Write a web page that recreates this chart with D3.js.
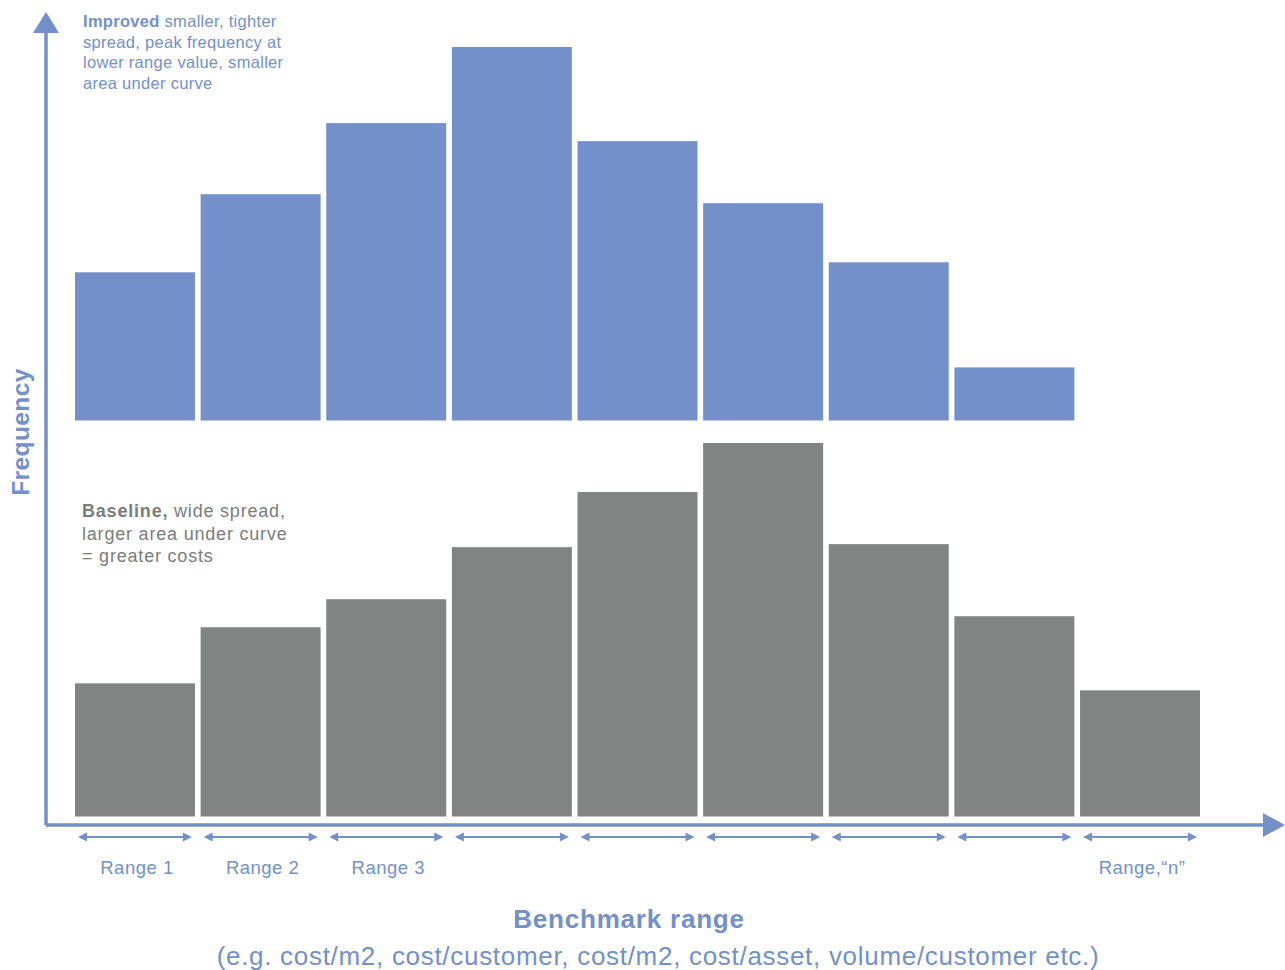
<!DOCTYPE html>
<html>
<head>
<meta charset="utf-8">
<script src="https://cdn.jsdelivr.net/npm/d3@7"></script>
<style>
  html, body { margin: 0; padding: 0; background: #fff; }
  svg { display: block; font-family: "Liberation Sans", Arial, Helvetica, sans-serif; }
</style>
</head>
<body>
<svg id="chart" width="1285" height="970"></svg>
<script>
// Benchmark ranges along the x axis
const ranges = ["r1", "r2", "r3", "r4", "r5", "r6", "r7", "r8", "r9"];
const rangeLabels = ["Range 1", "Range 2", "Range 3", "", "", "", "", "", "Range,\u201cn\u201d"];

// Frequency per range (arbitrary units)
const improvedValues = [148, 226, 297, 373, 279, 217, 158, 53];
const baselineValues = [133, 189, 217, 269, 324, 373, 272, 200, 126];

const blue = "#7390ca";
const grey = "#818483";
const blueText = "#7390ca";
const greyText = "#7a7c7c";

const svg = d3.select("#chart");

const x = d3.scaleBand()
  .domain(ranges)
  .range([75, 1200])
  .paddingInner(0.045)
  .paddingOuter(0);

const maxV = d3.max(improvedValues.concat(baselineValues));
// Each histogram has its own baseline, same vertical scale
const yTop = d3.scaleLinear().domain([0, maxV]).range([420.5, 47]);
const yBot = d3.scaleLinear().domain([0, maxV]).range([816.5, 443]);

// Improved distribution
svg.append("g").selectAll("rect")
  .data(improvedValues)
  .join("rect")
  .attr("x", (d, i) => x(ranges[i]))
  .attr("y", d => yTop(d))
  .attr("width", x.bandwidth())
  .attr("height", d => yTop(0) - yTop(d))
  .attr("fill", blue);

// Baseline distribution
svg.append("g").selectAll("rect")
  .data(baselineValues)
  .join("rect")
  .attr("x", (d, i) => x(ranges[i]))
  .attr("y", d => yBot(d))
  .attr("width", x.bandwidth())
  .attr("height", d => yBot(0) - yBot(d))
  .attr("fill", grey);

// Axes with arrowheads
const axisY = 825;
const axisX = 46;
svg.append("path")
  .attr("d", `M${axisX},${axisY} L${axisX},30 M${axisX},${axisY} L1266,${axisY}`)
  .attr("fill", "none")
  .attr("stroke", blue)
  .attr("stroke-width", 3.5);
svg.append("path")
  .attr("d", `M${axisX},12 L${axisX - 13},33 L${axisX + 13},33 Z`)
  .attr("fill", blue);
svg.append("path")
  .attr("d", `M1285,${axisY} L1263,${axisY - 12} L1263,${axisY + 12} Z`)
  .attr("fill", blue);

// Double-headed range markers under each bin
const arrowY = 837;
const markers = svg.append("g");
ranges.forEach(r => {
  const x0 = x(r) + 3, x1 = x(r) + x.bandwidth() - 3;
  markers.append("line")
    .attr("x1", x0 + 6).attr("x2", x1 - 6)
    .attr("y1", arrowY).attr("y2", arrowY)
    .attr("stroke", blue).attr("stroke-width", 2);
  markers.append("path")
    .attr("d", `M${x0},${arrowY} L${x0 + 9},${arrowY - 4.5} L${x0 + 9},${arrowY + 4.5} Z`)
    .attr("fill", blue);
  markers.append("path")
    .attr("d", `M${x1},${arrowY} L${x1 - 9},${arrowY - 4.5} L${x1 - 9},${arrowY + 4.5} Z`)
    .attr("fill", blue);
});

// Range labels
svg.append("g").selectAll("text")
  .data(rangeLabels)
  .join("text")
  .attr("x", (d, i) => x(ranges[i]) + x.bandwidth() / 2 + 2)
  .attr("y", 874)
  .attr("text-anchor", "middle")
  .attr("font-size", 18.5)
  .attr("letter-spacing", 0.5)
  .attr("fill", blueText)
  .text(d => d);

// Axis titles
svg.append("text")
  .attr("x", 629).attr("y", 928)
  .attr("text-anchor", "middle")
  .attr("font-size", 26).attr("font-weight", "bold")
  .attr("letter-spacing", 0.8)
  .attr("fill", blueText)
  .text("Benchmark range");
svg.append("text")
  .attr("x", 658).attr("y", 965)
  .attr("text-anchor", "middle")
  .attr("font-size", 26)
  .attr("letter-spacing", 0.7)
  .attr("fill", blueText)
  .text("(e.g. cost/m2, cost/customer, cost/m2, cost/asset, volume/customer etc.)");
svg.append("text")
  .attr("transform", "translate(29,432) rotate(-90)")
  .attr("text-anchor", "middle")
  .attr("font-size", 24.5).attr("font-weight", "bold")
  .attr("letter-spacing", 0.4)
  .attr("fill", blueText)
  .text("Frequency");

// Annotations
const topNote = svg.append("text")
  .attr("x", 83).attr("y", 27)
  .attr("font-size", 16.5).attr("letter-spacing", 0.3)
  .attr("fill", blueText);
[["Improved", " smaller, tighter"], ["", "spread, peak frequency at"], ["", "lower range value, smaller"], ["", "area under curve"]]
  .forEach((ln, i) => {
    const t = topNote.append("tspan").attr("x", 83).attr("y", 27 + i * 20.7);
    if (ln[0]) t.append("tspan").attr("font-weight", "bold").text(ln[0]);
    t.append("tspan").text(ln[1]);
  });

const botNote = svg.append("text")
  .attr("x", 82).attr("y", 517)
  .attr("font-size", 18).attr("letter-spacing", 0.8)
  .attr("fill", greyText);
[["Baseline,", " wide spread,"], ["", "larger area under curve"], ["", "= greater costs"]]
  .forEach((ln, i) => {
    const t = botNote.append("tspan").attr("x", 82).attr("y", 517 + i * 22.5);
    if (ln[0]) t.append("tspan").attr("font-weight", "bold").text(ln[0]);
    t.append("tspan").text(ln[1]);
  });
</script>
</body>
</html>
